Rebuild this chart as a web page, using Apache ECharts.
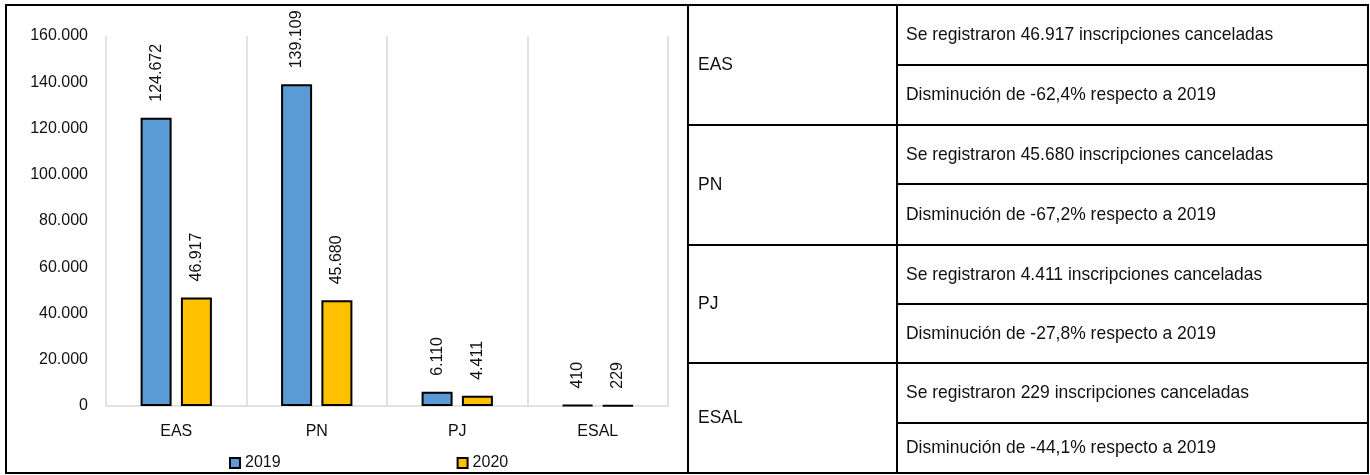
<!DOCTYPE html>
<html>
<head>
<meta charset="utf-8">
<script src="https://cdn.jsdelivr.net/npm/echarts@6/dist/echarts.min.js"></script>
<style>
html,body{margin:0;padding:0;background:#fff;}
#c{width:1370px;height:475px;}
</style>
</head>
<body>
<div id="c"></div>
<script>
var categories = ['EAS', 'PN', 'PJ', 'ESAL'];
var seriesNames = ['2019', '2020'];
var values2019 = [124672, 139109, 6110, 410];
var values2020 = [46917, 45680, 4411, 229];
var yTicks = [0, 20000, 40000, 60000, 80000, 100000, 120000, 140000, 160000];

var FONT = "'Liberation Sans',Arial,sans-serif";
var TXT = '#111';

function fmtInt(v) {
  return String(Math.round(v)).replace(/\B(?=(\d{3})+(?!\d))/g, '.');
}
function fmtPct(v) {
  return v.toFixed(1).replace('.', ',');
}

var chart = echarts.init(document.getElementById('c'), null, {renderer: 'canvas'});

// table layout (pixels)
var T = {x0: 688, x1: 897, x2: 1368, rows: [5, 125, 245, 363, 473], subs: [65, 184, 304, 423]};
var graphics = [];
graphics.push({type: 'rect', shape: {x: 6, y: 5, width: 1362, height: 468}, style: {fill: null, stroke: '#000', lineWidth: 2}, z: 100});
graphics.push({type: 'line', shape: {x1: T.x0, y1: 5, x2: T.x0, y2: 473}, style: {stroke: '#000', lineWidth: 2}, z: 100});
graphics.push({type: 'line', shape: {x1: T.x1, y1: 5, x2: T.x1, y2: 473}, style: {stroke: '#000', lineWidth: 2}, z: 100});
for (var r = 1; r < T.rows.length - 1; r++) {
  graphics.push({type: 'line', shape: {x1: T.x0, y1: T.rows[r], x2: T.x2, y2: T.rows[r]}, style: {stroke: '#000', lineWidth: 2}, z: 100});
}
for (var s = 0; s < T.subs.length; s++) {
  graphics.push({type: 'line', shape: {x1: T.x1, y1: T.subs[s], x2: T.x2, y2: T.subs[s]}, style: {stroke: '#000', lineWidth: 2}, z: 100});
}
var SX = 0.92;
var TF = '19px ' + FONT;
for (var i = 0; i < categories.length; i++) {
  var rowTop = T.rows[i], rowBot = T.rows[i + 1], rowMid = T.subs[i];
  var change = (values2020[i] - values2019[i]) / values2019[i] * 100;
  var word = change < 0 ? 'Disminución' : 'Aumento';
  graphics.push({type: 'text', x: T.x0 + 10, y: (rowTop + rowBot) / 2, scaleX: SX,
    style: {text: categories[i], font: TF, fill: TXT, verticalAlign: 'middle'}, z: 101});
  graphics.push({type: 'text', x: T.x1 + 9, y: (rowTop + rowMid) / 2, scaleX: SX,
    style: {text: 'Se registraron ' + fmtInt(values2020[i]) + ' inscripciones canceladas', font: TF, fill: TXT, verticalAlign: 'middle'}, z: 101});
  graphics.push({type: 'text', x: T.x1 + 9, y: (rowMid + rowBot) / 2, scaleX: SX,
    style: {text: word + ' de ' + fmtPct(change) + '% respecto a ' + seriesNames[0], font: TF, fill: TXT, verticalAlign: 'middle'}, z: 101});
}

var labelCfg = {
  show: true, position: 'top', rotate: 90, align: 'left', verticalAlign: 'middle', distance: 16,
  fontFamily: FONT, fontSize: 16, color: TXT,
  formatter: function (p) { return fmtInt(p.value); }
};

var option = {
  backgroundColor: '#fff',
  animation: false,
  textStyle: {fontFamily: FONT},
  grid: {left: 106, right: 1370 - 668, top: 36, bottom: 475 - 406, containLabel: false},
  legend: {
    data: seriesNames, left: 224, top: 450, itemWidth: 10, itemHeight: 10, itemGap: 176,
    icon: 'rect', textStyle: {fontFamily: FONT, fontSize: 16, color: TXT}
  },
  xAxis: {
    type: 'category', data: categories,
    axisLine: {show: true, lineStyle: {color: '#d9d9d9', width: 1.5}},
    axisTick: {show: false},
    splitLine: {show: true, lineStyle: {color: '#d9d9d9', width: 1.5}},
    axisLabel: {fontFamily: FONT, fontSize: 16, color: TXT, margin: 18}
  },
  yAxis: {
    type: 'value', min: yTicks[0], max: yTicks[yTicks.length - 1], interval: yTicks[1] - yTicks[0],
    axisLine: {show: false}, axisTick: {show: false}, splitLine: {show: false},
    axisLabel: {fontFamily: FONT, fontSize: 16, color: TXT, margin: 18, formatter: function (v) { return fmtInt(v); }}
  },
  series: [
    {name: seriesNames[0], type: 'bar', data: values2019, barWidth: 31, barGap: '30%',
     itemStyle: {color: '#5B9BD5', borderColor: '#000', borderWidth: 2}, label: labelCfg},
    {name: seriesNames[1], type: 'bar', data: values2020, barWidth: 31, barGap: '30%',
     itemStyle: {color: '#FFC000', borderColor: '#000', borderWidth: 2}, label: labelCfg}
  ],
  graphic: graphics
};
chart.setOption(option);
</script>
</body>
</html>
